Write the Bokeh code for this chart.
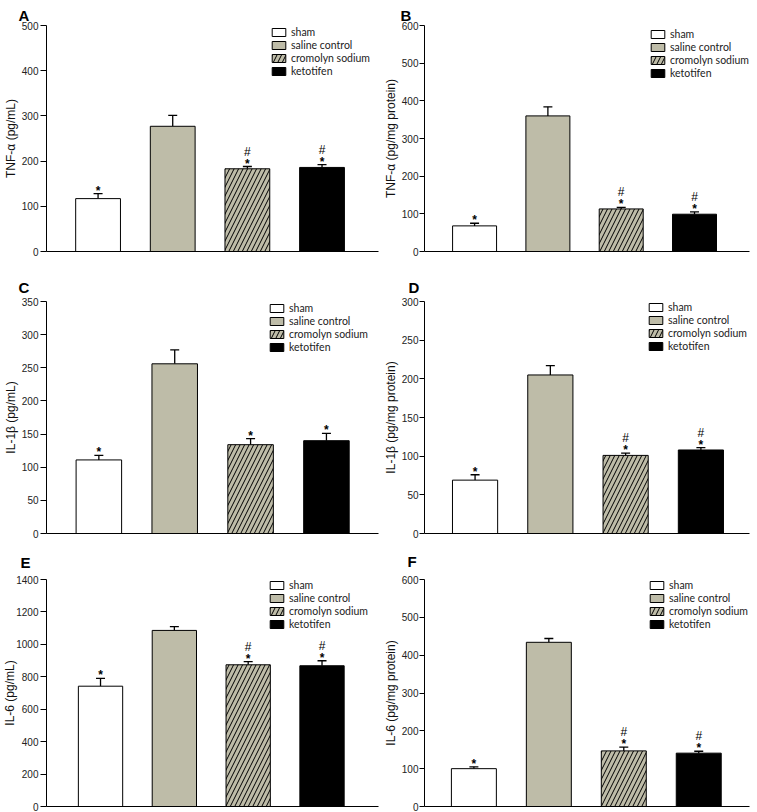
from bokeh.plotting import figure
from bokeh.models import (ColumnDataSource, Range1d, FixedTicker, Legend, LegendItem,
                          Whisker, TeeHead)
from bokeh.layouts import column, row
from bokeh.embed import file_html
from bokeh.resources import INLINE
from bokeh.core.properties import value

# ---------------- data ----------------
groups = ["sham", "saline control", "cromolyn sodium", "ketotifen"]

tnf_serum = [117, 277, 183, 186]
tnf_serum_err = [11, 24, 5, 6]
tnf_serum_marks = ["*", "", "#*", "#*"]
tnf_serum_ticks = [0, 100, 200, 300, 400, 500]

tnf_lung = [68, 360, 113, 99]
tnf_lung_err = [7, 24, 4, 6]
tnf_lung_marks = ["*", "", "#*", "#*"]
tnf_lung_ticks = [0, 100, 200, 300, 400, 500, 600]

il1b_serum = [111, 256, 134, 140]
il1b_serum_err = [7, 21, 9, 11]
il1b_serum_marks = ["*", "", "*", "*"]
il1b_serum_ticks = [0, 50, 100, 150, 200, 250, 300, 350]

il1b_lung = [69, 205, 101, 108]
il1b_lung_err = [7, 12, 3, 3]
il1b_lung_marks = ["*", "", "#*", "#*"]
il1b_lung_ticks = [0, 50, 100, 150, 200, 250, 300]

il6_serum = [742, 1086, 874, 868]
il6_serum_err = [48, 23, 19, 31]
il6_serum_marks = ["*", "", "#*", "#*"]
il6_serum_ticks = [0, 200, 400, 600, 800, 1000, 1200, 1400]

il6_lung = [100, 434, 147, 141]
il6_lung_err = [5, 10, 10, 5]
il6_lung_marks = ["*", "", "#*", "#*"]
il6_lung_ticks = [0, 100, 200, 300, 400, 500, 600]

panel_letters = ["A", "B", "C", "D", "E", "F"]
y_titles = ["TNF-\u03b1 (pg/mL)", "TNF-\u03b1 (pg/mg protein)",
            "IL-1\u03b2 (pg/mL)", "IL-1\u03b2 (pg/mg protein)",
            "IL-6 (pg/mL)", "IL-6 (pg/mg protein)"]

series = [
    (tnf_serum, tnf_serum_err, tnf_serum_marks, tnf_serum_ticks),
    (tnf_lung, tnf_lung_err, tnf_lung_marks, tnf_lung_ticks),
    (il1b_serum, il1b_serum_err, il1b_serum_marks, il1b_serum_ticks),
    (il1b_lung, il1b_lung_err, il1b_lung_marks, il1b_lung_ticks),
    (il6_serum, il6_serum_err, il6_serum_marks, il6_serum_ticks),
    (il6_lung, il6_lung_err, il6_lung_marks, il6_lung_ticks),
]

# ---------------- styles / layout ----------------
fills = ["white", "#bebca8", "#bebca8", "black"]
hatches = [" ", " ", "/", " "]
FONT = "Liberation Sans"

COLS = [(0, 380, 40, 378), (380, 376, 418, 749)]      # fig_left, fig_w, frame_left, frame_right
ROWS = [(0, 270, 25, 251), (270, 270, 301, 533), (540, 271, 577, 806)]  # fig_top, fig_h, frame_top, frame_bottom

# per panel: first & last bar centre (page px), title offset, title v-align, title standoff,
# legend (glyph left, first row top), axis label standoff
panel_geom = [
    (92.5, 320.5, -28, "top", 0, (264, 26), 1),
    (469.0, 693.0, -24, "top", 0, (643, 28), 1),
    (93.3, 325.0, -28, "top", 8, (262, 302), 1),
    (469.5, 699.5, -16, "top", 8, (641, 301), 1),
    (95.0, 320.5, -26, "bottom", 18, (262, 579), -4),
    (468.3, 697.3, -17, "bottom", 20, (642, 579), 1),
]


def make_panel(i):
    vals, errs, marks, ticks = series[i]
    fig_left, fig_w, fL, fR = COLS[i % 2]
    fig_top, fig_h, fT, fB = ROWS[i // 2]
    c0, c3, t_off, t_va, t_stand, (lg_x, lg_top), al_std = panel_geom[i]

    s = (c3 - c0) / 3.0
    x_start = (fL - c0) / s
    x_end = (fR - c0) / s

    p = figure(width=fig_w, height=fig_h,
               x_range=Range1d(x_start, x_end), y_range=Range1d(ticks[0], ticks[-1]),
               output_backend="svg", toolbar_location=None,
               min_border_left=fL - fig_left, min_border_right=fig_left + fig_w - fR,
               min_border_top=fT - fig_top, min_border_bottom=fig_top + fig_h - fB)
    p.outline_line_color = None
    p.xgrid.visible = False
    p.ygrid.visible = False

    # panel letter as title
    p.title.text = panel_letters[i]
    p.title.text_font = FONT
    p.title.text_font_size = "15px"
    p.title.text_font_style = "bold"
    p.title.align = "left"
    p.title.vertical_align = t_va
    p.title.offset = t_off
    p.title.standoff = t_stand
    p.title.text_color = "black"

    xs = list(range(len(groups)))
    tops = [v + e for v, e in zip(vals, errs)]
    src = ColumnDataSource(dict(x=xs, val=vals, top=tops, fill=fills, hatch=hatches))
    r = p.vbar(x="x", top="val", bottom=0, width=0.6, source=src,
               fill_color="fill", line_color="black", line_width=1,
               hatch_pattern="hatch", hatch_color="black", hatch_scale=9,
               hatch_weight=1)

    wh = Whisker(source=src, base="x", lower="val", upper="top",
                 lower_head=None,
                 upper_head=TeeHead(size=9, line_width=1.3, line_color="black"),
                 line_color="black", line_width=1.3)
    p.add_layout(wh)

    sx, sy, hx, hy = [], [], [], []
    for x, t, m in zip(xs, tops, marks):
        if "*" in m:
            sx.append(x); sy.append(t)
        if "#" in m:
            hx.append(x); hy.append(t)
    p.text(x=sx, y=sy, text=["*"] * len(sx), text_font=value(FONT),
           text_font_size=value("12px"), text_font_style="bold",
           text_align="center", text_baseline="middle", y_offset=-3,
           text_color="black")
    p.text(x=hx, y=hy, text=["#"] * len(hx), text_font=value(FONT),
           text_font_size=value("12px"), text_align="center",
           text_baseline="middle", y_offset=-15, text_color="black")

    # y axis
    ya = p.yaxis[0]
    ya.ticker = FixedTicker(ticks=ticks)
    ya.minor_tick_line_color = None
    ya.major_tick_out = 6 if i % 2 == 0 else 5
    ya.major_tick_in = 0
    ya.major_label_standoff = 2 if i % 2 == 0 else 1
    ya.major_label_text_font = FONT
    ya.major_label_text_font_size = "10px"
    ya.major_label_text_color = "#222222"
    ya.axis_line_color = "black"
    ya.major_tick_line_color = "black"
    ya.axis_label = y_titles[i]
    ya.axis_label_text_font = FONT
    ya.axis_label_text_font_size = "12px"
    ya.axis_label_text_font_style = "normal"
    ya.axis_label_text_color = "#111111"
    ya.axis_label_standoff = al_std

    # x axis: plain baseline
    xa = p.xaxis[0]
    xa.ticker = FixedTicker(ticks=[])
    xa.major_tick_out = 0
    xa.major_tick_in = 0
    xa.minor_tick_line_color = None
    xa.major_label_text_font_size = "0px"
    xa.major_label_standoff = 0
    xa.axis_line_color = "black"

    # legend
    n = len(groups)
    row_h, sp = 12, 1
    leg_h = n * row_h + (n - 1) * sp
    items = [LegendItem(label=g, renderers=[r], index=k) for k, g in enumerate(groups)]
    leg = Legend(items=items, location=(lg_x - fL, fB - (lg_top + leg_h)),
                 glyph_width=17, glyph_height=10, label_height=row_h,
                 spacing=sp, padding=0, margin=0, label_standoff=4,
                 label_text_font="Lato", label_text_font_size="10.5px",
                 label_text_color="#222222",
                 border_line_color=None, background_fill_alpha=0)
    p.add_layout(leg)
    return p


figs = [make_panel(i) for i in range(6)]
layout = column(row(figs[0], figs[1]), row(figs[2], figs[3]), row(figs[4], figs[5]))

open("out.html", "w").write(file_html(layout, INLINE))
